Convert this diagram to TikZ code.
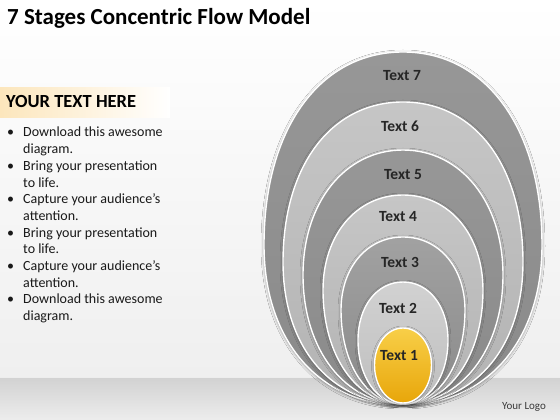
\documentclass[tikz,border=0pt]{standalone}
\usepackage{fontspec}
\setmainfont{Carlito}
\usetikzlibrary{positioning, shadows.blur}

\definecolor{ringdark}{HTML}{8A8A8A}
\definecolor{ringdarktop}{HTML}{979797}
\definecolor{ringlight}{HTML}{B3B3B3}
\definecolor{ringlighttop}{HTML}{C6C6C6}
\definecolor{coretop}{HTML}{F8CF48}
\definecolor{corebottom}{HTML}{E8A60A}
\definecolor{floortop}{HTML}{D2D2D2}
\definecolor{floorbottom}{HTML}{EDEDED}
\definecolor{bgbottom}{HTML}{EFEFEF}
\definecolor{headband}{HTML}{FCE6BC}
\definecolor{logotext}{HTML}{3A3A3A}

\tikzset{
  ring/.style={draw=white, line width=1.4pt,
    blur shadow={shadow xshift=0pt, shadow yshift=-1pt, shadow blur steps=6,
      shadow blur radius=3pt, shadow opacity=45}},
  darkring/.style={ring, top color=ringdarktop, bottom color=ringdark},
  lightring/.style={ring, top color=ringlighttop, bottom color=ringlight},
  ringtext/.style={font=\fontsize{15.5}{18}\selectfont\bfseries, text=black!85},
  itemtext/.style={anchor=base west, align=left, inner sep=0pt,
    font=\fontsize{14}{16.7}\selectfont, text=black!90},
}

\begin{document}
\begin{tikzpicture}[x=1pt, y=1pt]
    \useasboundingbox (0,0) rectangle (560,420);

    % background and floor
    \fill[top color=white, bottom color=bgbottom] (0,42) rectangle (560,420);
    \fill[top color=floortop, bottom color=floorbottom] (0,0) rectangle (560,42);
    \draw[white!60!floortop, line width=1pt] (0,42.5) -- (560,42.5);

    % title
    \node[anchor=base west, inner sep=0pt, font=\fontsize{23}{27}\selectfont\bfseries]
        (title) at (7,395) {7 Stages Concentric Flow Model};

    % heading with band
    \fill[left color=headband, right color=white] (0,302) rectangle (170,332);
    \node[anchor=base west, inner sep=0pt, font=\fontsize{18.5}{21}\selectfont\bfseries]
        (head) at (6,312) {YOUR TEXT HERE};

    % bullet list (text nodes sit on their last line)
    \node[itemtext] (b1) at (7,283) {\textbullet};
    \node[itemtext] (i1) at (23,266.3) {Download this awesome\\diagram.};
    \node[itemtext] (b2) at (7,249.6) {\textbullet};
    \node[itemtext] (i2) at (23,232.9) {Bring your presentation\\to life.};
    \node[itemtext] (b3) at (7,216.2) {\textbullet};
    \node[itemtext] (i3) at (23,199.5) {Capture your audience’s\\attention.};
    \node[itemtext] (b4) at (7,182.8) {\textbullet};
    \node[itemtext] (i4) at (23,166.1) {Bring your presentation\\to life.};
    \node[itemtext] (b5) at (7,149.4) {\textbullet};
    \node[itemtext] (i5) at (23,132.7) {Capture your audience’s\\attention.};
    \node[itemtext] (b6) at (7,116) {\textbullet};
    \node[itemtext] (i6) at (23,99.3) {Download this awesome\\diagram.};

    % ring 7 (outer)
    \path[darkring] (264,175) .. controls (264,290.8) and (319.6,368) .. (403,368)
        .. controls (486.4,368) and (542,290.8) .. (542,175)
        .. controls (542,79) and (486.4,15) .. (403,15)
        .. controls (319.6,15) and (264,79) .. cycle;
    % ring 6
    \path[lightring] (283,158) .. controls (283,254) and (331,318) .. (403,318)
        .. controls (475,318) and (523,254) .. (523,158)
        .. controls (523,72.8) and (475,16) .. (403,16)
        .. controls (331,16) and (283,72.8) .. cycle;
    % ring 5
    \path[darkring] (303,145) .. controls (303,217.5) and (345,270) .. (403,270)
        .. controls (461,270) and (503,217.5) .. (503,145)
        .. controls (503,70.2) and (461,16) .. (403,16)
        .. controls (345,16) and (303,70.2) .. cycle;
    % ring 4
    \path[lightring] (323,130) .. controls (323,185.1) and (356.6,225) .. (403,225)
        .. controls (449.4,225) and (483,185.1) .. (483,130)
        .. controls (483,63.9) and (449.4,16) .. (403,16)
        .. controls (356.6,16) and (323,63.9) .. cycle;
    % ring 3
    \path[darkring, top color=ringdarktop!90!white] (341,110)
        .. controls (341,152.3) and (367,183) .. (403,183)
        .. controls (439,183) and (465,152.3) .. (465,110)
        .. controls (465,55.5) and (439,16) .. (403,16)
        .. controls (367,16) and (341,55.5) .. cycle;
    % ring 2
    \path[lightring, top color=ringlighttop!80!white, bottom color=ringlight!85!white] (358,80)
        .. controls (358,113.6) and (376.9,138) .. (403,138)
        .. controls (429.1,138) and (448,113.6) .. (448,80)
        .. controls (448,42.9) and (429.1,16) .. (403,16)
        .. controls (376.9,16) and (358,42.9) .. cycle;
    % ring 1 (core)
    \path[ring, top color=coretop, bottom color=corebottom] (374.5,55)
        .. controls (374.5,75.7) and (387,92) .. (403,92)
        .. controls (419,92) and (431.5,75.7) .. (431.5,55)
        .. controls (431.5,33.7) and (419,17) .. (403,17)
        .. controls (387,17) and (374.5,33.7) .. cycle;

    % ring labels
    \node[ringtext] (t7) at (402,344) {Text 7};
    \node[ringtext] (t6) at (400,294) {Text 6};
    \node[ringtext] (t5) at (403,245) {Text 5};
    \node[ringtext] (t4) at (398,203) {Text 4};
    \node[ringtext] (t3) at (400,158) {Text 3};
    \node[ringtext] (t2) at (398,112) {Text 2};
    \node[ringtext] (t1) at (399,64) {Text 1};

    % logo
    \node[font=\fontsize{11}{13}\selectfont, text=logotext] (logo) at (524,13) {Your Logo};

\end{tikzpicture}
\end{document}
